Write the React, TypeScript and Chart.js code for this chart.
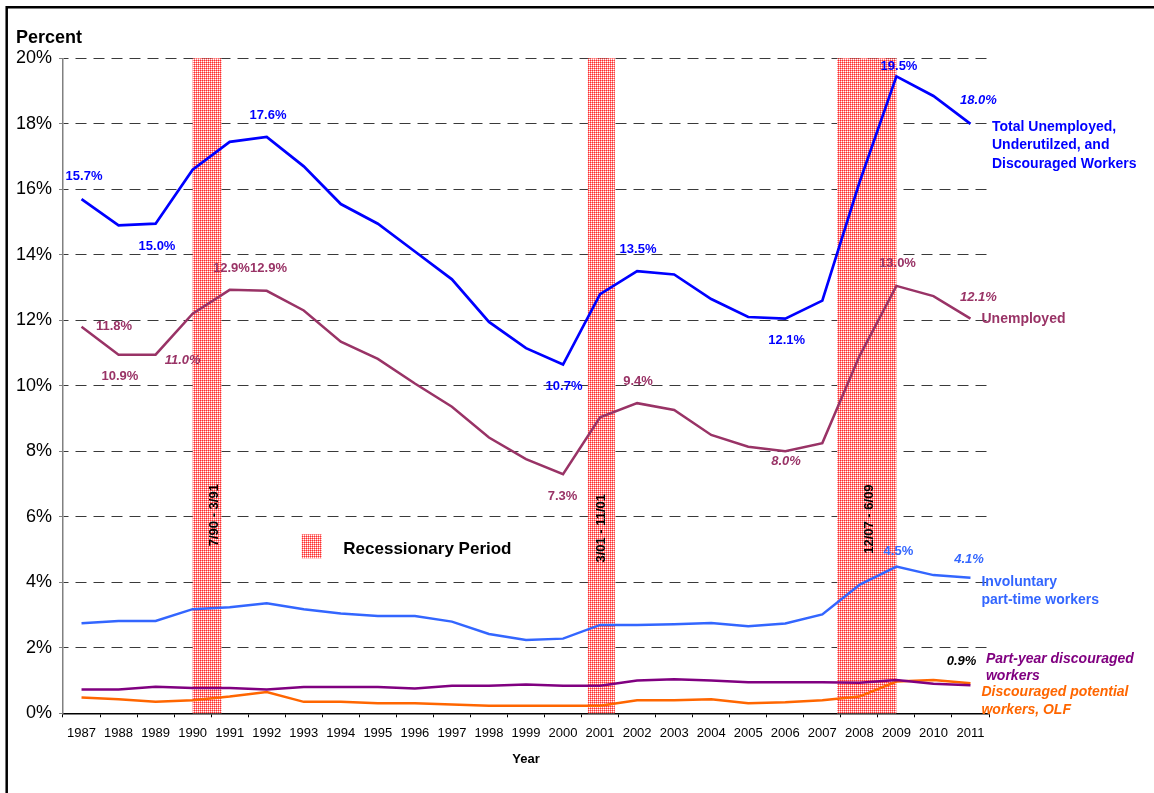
import { useEffect, useRef } from 'react';
import { Chart, registerables } from 'chart.js';

Chart.register(...registerables);

const FONT = '"Liberation Sans", Arial, Helvetica, sans-serif';

// ---------- data ----------
const years = [
  '1987', '1988', '1989', '1990', '1991', '1992', '1993', '1994', '1995', '1996',
  '1997', '1998', '1999', '2000', '2001', '2002', '2003', '2004', '2005', '2006',
  '2007', '2008', '2009', '2010', '2011',
];

const totalUnderutilized = [
  15.7, 14.9, 14.95, 16.6, 17.45, 17.6, 16.7, 15.55, 14.95, 14.1,
  13.25, 11.95, 11.15, 10.65, 12.8, 13.5, 13.4, 12.65, 12.1, 12.05,
  12.6, 16.2, 19.45, 18.85, 18.0,
];

const unemployed = [
  11.8, 10.95, 10.95, 12.2, 12.93, 12.9, 12.3, 11.35, 10.82, 10.07,
  9.36, 8.42, 7.76, 7.3, 9.04, 9.47, 9.26, 8.5, 8.14, 8.0,
  8.25, 10.9, 13.05, 12.74, 12.05,
];

const involuntaryPartTime = [
  2.75, 2.82, 2.82, 3.18, 3.24, 3.36, 3.18, 3.05, 2.97, 2.97,
  2.8, 2.42, 2.24, 2.28, 2.7, 2.7, 2.72, 2.76, 2.66, 2.74,
  3.02, 3.92, 4.48, 4.22, 4.14,
];

const partYearDiscouraged = [
  0.73, 0.73, 0.81, 0.77, 0.77, 0.73, 0.8, 0.8, 0.8, 0.76,
  0.84, 0.84, 0.88, 0.84, 0.84, 1.0, 1.04, 1.0, 0.95, 0.95,
  0.95, 0.93, 1.02, 0.9, 0.86,
];

const discouragedOLF = [
  0.48, 0.43, 0.35, 0.4, 0.51, 0.65, 0.35, 0.35, 0.31, 0.31,
  0.27, 0.23, 0.23, 0.23, 0.23, 0.4, 0.4, 0.43, 0.31, 0.34,
  0.4, 0.51, 0.97, 1.02, 0.92,
];

// recession periods on the year axis (year = category centre)
const recessionStart = [1990.0, 2000.67, 2007.4];
const recessionEnd = [1990.78, 2001.4, 2009.0];
const recessionLabels = ['7/90 - 3/91', '3/01 - 11/01', '12/07 - 6/09'];
const recessionLabelValue = [6.05, 5.65, 5.93];

// data labels: series index, category index, text
const labelSeries = [0, 0, 0, 0, 0, 0, 0, 0, 1, 1, 1, 1, 1, 1, 1, 1, 1, 1, 2, 2, 3];
const labelIndex = [0, 2, 5, 13, 15, 19, 22, 24, 0, 1, 2, 4, 5, 13, 15, 19, 22, 24, 22, 24, 24];
const labelText = [
  '15.7%', '15.0%', '17.6%', '10.7%', '13.5%', '12.1%', '19.5%', '18.0%',
  '11.8%', '10.9%', '11.0%', '12.9%', '12.9%', '7.3%', '9.4%', '8.0%', '13.0%', '12.1%',
  '4.5%', '4.1%',
  '0.9%',
];

// ---------- styles ----------
const seriesColors = ['#0000FF', '#993366', '#3366FF', '#800080', '#FF6600'];
const labelDx = [2.5, 1.4, 1.3, 1, 0.9, 1.4, 2.6, 8, 32.5, 1.4, 27, 1.8, 1.8, -0.5, 0.9, 0.7, 1.1, 8, 2, -1.5, -9];
const labelDy = [-22.4, 22.3, -21.9, 21.5, -22.2, 21.3, -10.3, -23, 0, 21.3, 6, -21.8, -22.8, 21.8, -21.5, 10.4, -22.9, -21, -15, -18.7, -24];
const labelItalic = [0, 0, 0, 0, 0, 0, 0, 1, 0, 0, 1, 0, 0, 0, 0, 1, 0, 1, 0, 1, 1];
const labelColorOverride: (string | null)[] = [
  null, null, null, null, null, null, null, null,
  null, null, null, null, null, null, null, null, null, null,
  null, null,
  '#000000',
];

const seriesNames = [
  ['Total Unemployed,', 'Underutilzed, and', 'Discouraged Workers'],
  ['Unemployed'],
  ['Involuntary', 'part-time workers'],
  ['Part-year discouraged', 'workers'],
  ['Discouraged potential', 'workers, OLF'],
];
const nameDx = [21.5, 11, 11, 15.5, 11];
const nameDy = [3, 0, 4, -26, 9];
const nameLineHeight = [18.6, 18.5, 18.3, 17.4, 17.7];
const nameItalic = [0, 0, 0, 1, 1];
const recessionLabelDx = [7.5, 0, 3];

function makePattern(ctx: CanvasRenderingContext2D) {
  const c = document.createElement('canvas');
  c.width = 2;
  c.height = 2;
  const p = c.getContext('2d')!;
  p.fillStyle = '#ff8c8c';
  p.fillRect(0, 0, 2, 2);
  p.fillStyle = '#ff2e2e';
  p.fillRect(0, 0, 1, 1);
  p.fillStyle = '#ffffff';
  p.fillRect(1, 1, 1, 1);
  return ctx.createPattern(c, 'repeat')!;
}

function idxPixel(scale: any, idx: number) {
  const p0 = scale.getPixelForValue(0);
  const p1 = scale.getPixelForValue(1);
  return p0 + (p1 - p0) * idx;
}

const recessionPlugin = {
  id: 'recessions',
  beforeDatasetsDraw(chart: any) {
    const { ctx, chartArea, scales } = chart;
    const x = scales.x;
    ctx.save();
    ctx.fillStyle = makePattern(ctx);
    for (let k = 0; k < recessionStart.length; k++) {
      const a = idxPixel(x, recessionStart[k] - 1987);
      const b = idxPixel(x, recessionEnd[k] - 1987);
      ctx.fillRect(a, chartArea.top, b - a, chartArea.bottom - chartArea.top);
    }
    ctx.restore();
  },
};

function drawText(
  ctx: CanvasRenderingContext2D,
  s: string,
  x: number,
  y: number,
  color: string,
  font: string,
  align: CanvasTextAlign = 'center'
) {
  ctx.fillStyle = color;
  ctx.font = font;
  ctx.textAlign = align;
  ctx.textBaseline = 'middle';
  ctx.fillText(s, x, y);
}

const seriesData = [totalUnderutilized, unemployed, involuntaryPartTime, partYearDiscouraged, discouragedOLF];

const annotationPlugin = {
  id: 'annotations',
  afterDatasetsDraw(chart: any) {
    const { ctx, chartArea, scales } = chart;
    const x = scales.x;
    const y = scales.y;
    ctx.save();

    // recession period labels (vertical)
    for (let k = 0; k < recessionLabels.length; k++) {
      const a = idxPixel(x, recessionStart[k] - 1987);
      const b = idxPixel(x, recessionEnd[k] - 1987);
      const cx = (a + b) / 2 + recessionLabelDx[k];
      const cy = y.getPixelForValue(recessionLabelValue[k]);
      ctx.save();
      ctx.translate(cx, cy);
      ctx.rotate(-Math.PI / 2);
      drawText(ctx, recessionLabels[k], 0, 0, '#000000', `bold 13px ${FONT}`);
      ctx.restore();
    }

    // data labels
    for (let k = 0; k < labelText.length; k++) {
      const s = labelSeries[k];
      const i = labelIndex[k];
      const px = x.getPixelForValue(i) + labelDx[k];
      const py = y.getPixelForValue(seriesData[s][i]) + labelDy[k];
      const font = `${labelItalic[k] ? 'italic ' : ''}bold 13px ${FONT}`;
      drawText(ctx, labelText[k], px, py, labelColorOverride[k] || seriesColors[s], font);
    }

    // series names at the right end
    for (let s = 0; s < seriesNames.length; s++) {
      const last = seriesData[s].length - 1;
      const px = x.getPixelForValue(last) + nameDx[s];
      const py = y.getPixelForValue(seriesData[s][last]) + nameDy[s];
      const font = `${nameItalic[s] ? 'italic ' : ''}bold 14px ${FONT}`;
      seriesNames[s].forEach((line, j) => {
        drawText(ctx, line, px, py + j * nameLineHeight[s], seriesColors[s], font, 'left');
      });
    }

    // recessionary period legend
    const lx = chartArea.left + 238.7;
    const ly = chartArea.top + 476;
    ctx.fillStyle = makePattern(ctx);
    ctx.fillRect(lx, ly, 20, 24);
    drawText(ctx, 'Recessionary Period', lx + 41.6, ly + 15, '#000000', `bold 17px ${FONT}`, 'left');

    // axis titles
    drawText(ctx, 'Percent', 16, 38.3, '#000000', `bold 18px ${FONT}`, 'left');
    drawText(ctx, 'Year', (chartArea.left + chartArea.right) / 2, 759.3, '#000000', `bold 13px ${FONT}`);

    // frame (top and left border of the page figure)
    ctx.strokeStyle = '#000000';
    ctx.lineWidth = 2.5;
    ctx.beginPath();
    ctx.moveTo(1154, 7.3);
    ctx.lineTo(6.7, 7.3);
    ctx.lineTo(6.7, 793);
    ctx.stroke();

    ctx.restore();
  },
};

export default function App() {
  const ref = useRef<HTMLCanvasElement | null>(null);

  useEffect(() => {
    if (!ref.current) return;
    const names = ['Total', 'Unemployed', 'Involuntary part-time', 'Part-year discouraged', 'Discouraged OLF'];
    const chart = new Chart(ref.current, {
      type: 'line',
      data: {
        labels: years,
        datasets: seriesData.map((d, s) => ({
          label: names[s],
          data: d,
          borderColor: seriesColors[s],
          backgroundColor: seriesColors[s],
          borderWidth: s === 0 ? 2.7 : 2.5,
          pointRadius: 0,
          tension: 0,
          fill: false,
        })),
      },
      options: {
        responsive: false,
        animation: false,
        events: [],
        layout: { padding: { left: 0, right: 165, top: 58.3, bottom: 0 } },
        plugins: {
          legend: { display: false },
          tooltip: { enabled: false },
          title: { display: false },
        },
        scales: {
          x: {
            type: 'category',
            offset: true,
            grid: {
              offset: true,
              drawOnChartArea: false,
              drawTicks: true,
              tickLength: 4,
              color: '#000000',
              lineWidth: 1,
            },
            border: { display: true, color: '#000000', width: 1.5 },
            ticks: {
              autoSkip: false,
              maxRotation: 0,
              minRotation: 0,
              padding: 8,
              color: '#000000',
              font: { family: FONT, size: 13 },
            },
            afterFit: (scale: any) => {
              scale.height = 79.7;
            },
          },
          y: {
            min: 0,
            max: 20,
            ticks: {
              stepSize: 2,
              padding: 7,
              color: '#000000',
              font: { family: FONT, size: 18 },
              callback: (v: any) => `${v}%`,
            },
            grid: {
              drawTicks: true,
              tickLength: 4,
              color: (c: any) => (c.tick && c.tick.value === 0 ? 'rgba(0,0,0,0)' : '#3a3a3a'),
              tickColor: '#808080',
              lineWidth: 1,
            },
            border: { display: true, color: '#808080', width: 1.5, dash: [11, 7], dashOffset: 6 },
            afterFit: (scale: any) => {
              scale.width = 63;
            },
          },
        },
      },
      plugins: [recessionPlugin, annotationPlugin],
    });
    return () => chart.destroy();
  }, []);

  return (
    <div style={{ position: 'fixed', left: 0, top: 0, width: 1154, height: 793, background: '#ffffff' }}>
      <canvas ref={ref} width={1154} height={793} style={{ width: 1154, height: 793, display: 'block' }} />
    </div>
  );
}
